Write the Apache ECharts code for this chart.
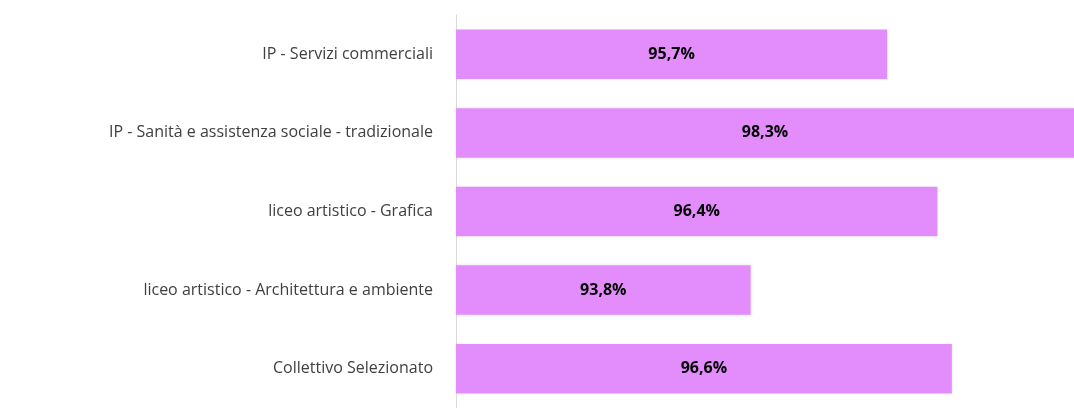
<!DOCTYPE html>
<html>
<head>
<meta charset="utf-8">
<script src="https://cdn.jsdelivr.net/npm/echarts@6/dist/echarts.min.js"></script>
<style>
  html, body { margin: 0; padding: 0; background: #fff; }
  #chart { width: 1074px; height: 408px; }
</style>
</head>
<body>
<div id="chart"></div>
<script>
// ==================
// DATA
// ==================
const categories = [
    'IP - Servizi commerciali',
    'IP - Sanità e assistenza sociale - tradizionale',
    'liceo artistico - Grafica',
    'liceo artistico - Architettura e ambiente',
    'Collettivo Selezionato'
];
const values = [95.7, 98.3, 96.4, 93.8, 96.6];

const chart = echarts.init(document.getElementById('chart'));

const option = {
    animation: false,
    grid: {
        left: 456,
        right: 0,
        top: 15,
        bottom: 0,
        containLabel: false
    },
    xAxis: {
        type: 'value',
        min: 89.7,
        max: 98.3,
        show: false
    },
    yAxis: {
        type: 'category',
        inverse: true,
        data: categories,
        axisLine: {
            show: true,
            lineStyle: { color: '#d9d9d9', width: 1 }
        },
        axisTick: { show: false },
        axisLabel: {
            color: '#404040',
            fontSize: 16,
            fontFamily: 'Open Sans, sans-serif',
            margin: 23
        }
    },
    series: [{
        type: 'bar',
        data: values,
        barCategoryGap: '37%',
        itemStyle: {
            color: '#e38dfc',
            shadowColor: 'rgba(0,0,0,0.12)',
            shadowBlur: 3
        },
        label: {
            show: true,
            position: 'inside',
            color: '#000',
            fontSize: 16,
            fontWeight: 'bold',
            fontFamily: 'Open Sans, sans-serif',
            formatter: p => p.value.toFixed(1).replace('.', ',') + '%'
        }
    }]
};

chart.setOption(option);
</script>
</body>
</html>
